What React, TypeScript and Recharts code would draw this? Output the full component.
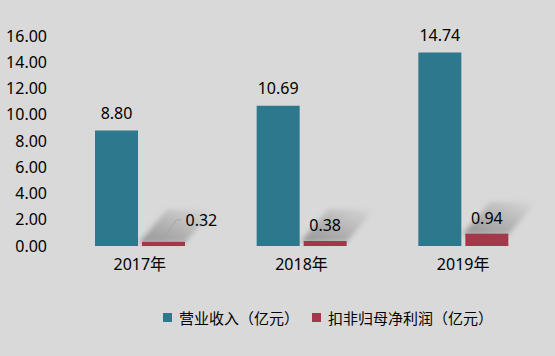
import React from "react";
import { BarChart, Bar, XAxis, YAxis, LabelList } from "recharts";

const years = ["2017年", "2018年", "2019年"];
const revenue = [8.8, 10.69, 14.74];
const netProfit = [0.32, 0.38, 0.94];
const yTicks = [0, 2, 4, 6, 8, 10, 12, 14, 16];
const seriesNames = ["营业收入（亿元）", "扣非归母净利润（亿元）"];

const BLUE = "#2e788d";
const RED = "#a5374a";
const BG = "#d9d9d9";
const FONT = '"Noto Sans", "Noto Sans CJK SC", sans-serif';

const chartData = years.map((year, i) => ({
  year,
  revenue: revenue[i],
  netProfit: netProfit[i],
}));

// red bar with a soft cast shadow going up-right
function ShadowBar(props: any) {
  const { x, y, width, height, index } = props;
  const id = `shadowGrad${index}`;
  return (
    <g>
      <defs>
        <linearGradient id={id} x1="0" y1="1" x2="1" y2="0">
          <stop offset="0%" stopColor="#000" stopOpacity={0.32} />
          <stop offset="100%" stopColor="#000" stopOpacity={0} />
        </linearGradient>
        <filter id="shadowBlur" x="-50%" y="-50%" width="200%" height="200%">
          <feGaussianBlur stdDeviation={2.5} />
        </filter>
      </defs>
      <polygon
        points={`${x - 3},${y + 1} ${x + width},${y + 1} ${x + width + 28},${y - 32} ${x + 25},${y - 32}`}
        fill={`url(#${id})`}
        filter="url(#shadowBlur)"
      />
      <rect x={x} y={y} width={width} height={height} fill={RED} />
    </g>
  );
}

function ProfitLabel(props: any) {
  const { x, y, width, value, index } = props;
  const text = Number(value).toFixed(2);
  if (index === 0) {
    const cx = x + width / 2;
    return (
      <g>
        <polyline
          points={`${cx - 1},${y - 2} ${cx + 13},${y - 22} ${cx + 18},${y - 22}`}
          fill="none"
          stroke="#a6a6a6"
          strokeWidth={1}
        />
        <text x={cx + 22} y={y - 16} fontSize={16} fill="#000" fontFamily={FONT}>
          {text}
        </text>
      </g>
    );
  }
  return (
    <text
      x={x + width / 2}
      y={y - 10}
      fontSize={16}
      fill="#000"
      textAnchor="middle"
      fontFamily={FONT}
    >
      {text}
    </text>
  );
}

export default function App() {
  return (
    <div
      style={{
        position: "absolute",
        left: 0,
        top: 0,
        width: 555,
        height: 356,
        background: BG,
        fontFamily: FONT,
      }}
    >
      <BarChart
        width={555}
        height={356}
        data={chartData}
        margin={{ top: 36, right: 11, bottom: 80, left: 0 }}
        barGap={4}
        barSize={43}
      >
        <XAxis
          dataKey="year"
          axisLine={false}
          tickLine={false}
          tickMargin={7}
          interval={0}
          tick={{ fontSize: 16, fill: "#000", fontFamily: FONT }}
        />
        <YAxis
          width={59}
          domain={[0, 16]}
          ticks={yTicks}
          interval={0}
          axisLine={false}
          tickLine={false}
          tickMargin={6}
          tickFormatter={(v: number) => v.toFixed(2)}
          tick={{ fontSize: 16, fill: "#000", fontFamily: FONT }}
        />
        <Bar dataKey="revenue" fill={BLUE} isAnimationActive={false}>
          <LabelList
            dataKey="revenue"
            position="top"
            offset={12}
            formatter={(v: any) => Number(v).toFixed(2)}
            style={{ fontSize: 16, fill: "#000", fontFamily: FONT }}
          />
        </Bar>
        <Bar dataKey="netProfit" fill={RED} shape={ShadowBar} isAnimationActive={false}>
          <LabelList dataKey="netProfit" content={ProfitLabel} />
        </Bar>
      </BarChart>
      <div style={{ position: "absolute", left: 163, top: 313, width: 9, height: 9, background: BLUE }} />
      <div style={{ position: "absolute", left: 179, top: 307, fontSize: 15, lineHeight: "22px", color: "#000" }}>
        {seriesNames[0]}
      </div>
      <div style={{ position: "absolute", left: 312, top: 313, width: 9, height: 9, background: RED }} />
      <div style={{ position: "absolute", left: 328, top: 307, fontSize: 15, lineHeight: "22px", color: "#000" }}>
        {seriesNames[1]}
      </div>
    </div>
  );
}
